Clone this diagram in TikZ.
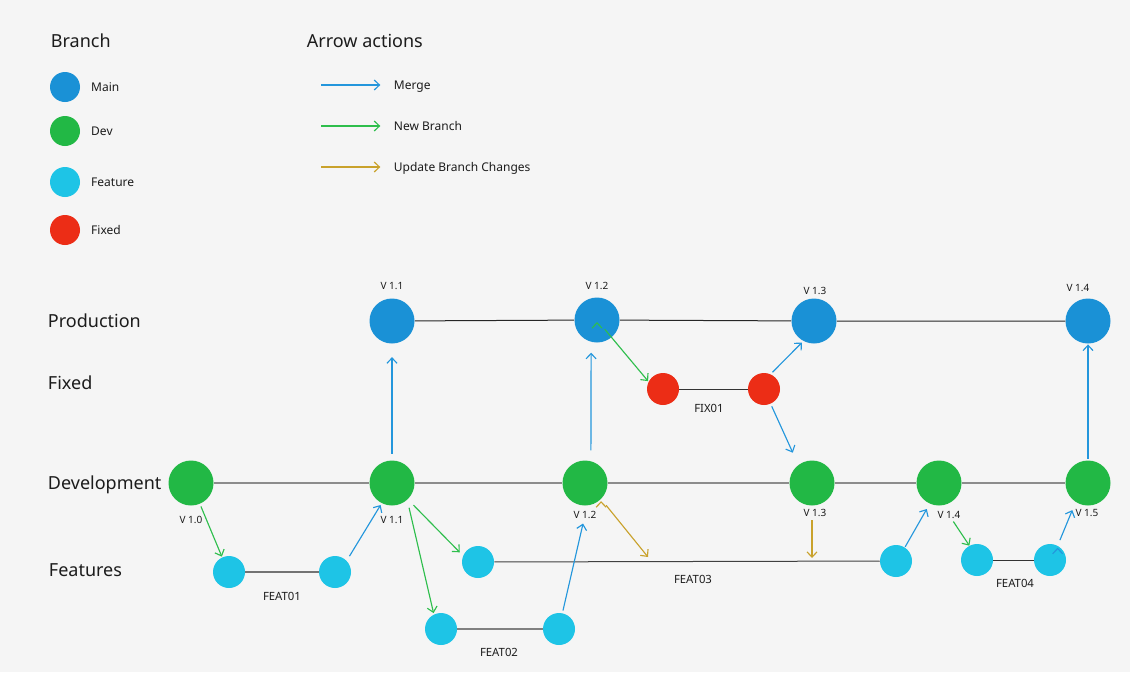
\documentclass[tikz,border=0pt]{standalone}
\usepackage{fontspec}
\setmainfont{Noto Sans}
\usepackage{tikz}
\usetikzlibrary{arrows.meta,positioning}
\definecolor{bg}{HTML}{F5F5F5}
\definecolor{ink}{HTML}{1C1C1C}
\definecolor{mainblue}{HTML}{1A91D6}
\definecolor{devgreen}{HTML}{22B845}
\definecolor{featcyan}{HTML}{1EC4E6}
\definecolor{fixred}{HTML}{EC2D16}
\definecolor{mergeblue}{HTML}{2396DC}
\definecolor{newgreen}{HTML}{2EBE4C}
\definecolor{updgold}{HTML}{C9A22C}
\tikzset{commit/.style={circle, inner sep=0pt, minimum size=24pt}}
\tikzstyle{prodc}=[commit, fill=mainblue, minimum size=33.75pt]
\tikzstyle{devc}=[commit, fill=devgreen, minimum size=33.75pt]
\tikzstyle{featc}=[commit, fill=featcyan]
\tikzstyle{fixc}=[commit, fill=fixred]
\tikzstyle{legc}=[commit, minimum size=22.5pt]
\tikzstyle{txt}=[inner sep=2pt, text depth=0pt, text=ink, font=\fontsize{9}{11}\selectfont]
\tikzstyle{head}=[txt, font=\fontsize{13.5}{16}\selectfont, anchor=west]
\tikzstyle{ver}=[txt, font=\fontsize{7.5}{9}\selectfont]
\tikzstyle{tag}=[txt, font=\fontsize{8.5}{10}\selectfont]
\tikzstyle{act}=[draw, ->, line width=0.85pt, shorten >=1.5pt, shorten <=2pt]
\tikzstyle{merge}=[act, mergeblue]
\tikzstyle{newbr}=[act, newgreen]
\tikzstyle{upd}=[act, updgold]

\begin{document}
\begin{tikzpicture}[>={Straight Barb[length=4pt,width=7.5pt]}, x=0.75pt, y=-0.75pt]
\fill[bg] (0,0) rectangle (1130,672);
\useasboundingbox (0,0) rectangle (1130,672);

\node[head] (hB) at (48,41) {Branch};
\node[head] (hA) at (304,41) {Arrow actions};
\node[legc, fill=mainblue] (L1) at (65,87) {};
\node[legc, fill=devgreen] (L2) at (65,131) {};
\node[legc, fill=featcyan] (L3) at (65,182) {};
\node[legc, fill=fixred] (L4) at (65,230) {};
\node[txt, right=6pt of L1] (tL1) {Main};
\node[txt, right=6pt of L2] (tL2) {Dev};
\node[txt, right=6pt of L3] (tL3) {Feature};
\node[txt, right=6pt of L4] (tL4) {Fixed};
\coordinate (A1) at (321,85);
\coordinate (A2) at (321,126);
\coordinate (A3) at (321,167);
\node[txt, anchor=west] (tA1) at (391,85) {Merge};
\node[txt, anchor=west] (tA2) at (391,126) {New Branch};
\node[txt, anchor=west] (tA3) at (391,167) {Update Branch Changes};

\node[head] (rP) at (45,321) {Production};
\node[head] (rX) at (45,383) {Fixed};
\node[head] (rD) at (45,483) {Development};
\node[head] (rF) at (46,570) {Features};

\node[prodc] (P1) at (392,321) {};
\node[prodc] (P2) at (597,320) {};
\node[prodc] (P3) at (814,321) {};
\node[prodc] (P4) at (1088,321) {};
\node[ver] (vP1) at (392,286) {V 1.1};
\node[ver] (vP2) at (597,286) {V 1.2};
\node[ver] (vP3) at (815,291) {V 1.3};
\node[ver] (vP4) at (1078,288) {V 1.4};

\node[fixc] (X1) at (663,389) {};
\node[fixc] (X2) at (764,389) {};
\node[tag] (tX) at (709,408) {FIX01};

\node[devc] (D0) at (191,483) {};
\node[devc] (D1) at (392,483) {};
\node[devc] (D2) at (585,483) {};
\node[devc] (D3) at (812,483) {};
\node[devc] (D4) at (939,483) {};
\node[devc] (D5) at (1088,483) {};
\node[ver] (vD0) at (191,520) {V 1.0};
\node[ver] (vD1) at (392,520) {V 1.1};
\node[ver] (vD2) at (585,515) {V 1.2};
\node[ver] (vD3) at (815,513) {V 1.3};
\node[ver] (vD4) at (949,515) {V 1.4};
\node[ver] (vD5) at (1087,513) {V 1.5};

\node[featc] (F1) at (229,572) {};
\node[featc] (F2) at (335,572) {};
\node[featc] (F3) at (441,629) {};
\node[featc] (F4) at (559,629) {};
\node[featc] (F5) at (478,562) {};
\node[featc] (F6) at (896,561) {};
\node[featc] (F7) at (977,560) {};
\node[featc] (F8) at (1050,560) {};
\node[tag] (tF1) at (282,596) {FEAT01};
\node[tag] (tF2) at (499,652) {FEAT02};
\node[tag] (tF3) at (693,579) {FEAT03};
\node[tag] (tF4) at (1015,583) {FEAT04};
\coordinate (u1) at (648,557);
\coordinate (u2) at (812,558);

\draw[black!85, line width=0.75pt] (P1) -- (P2) -- (P3) -- (P4);
\draw[black!45, line width=1.1pt] (D0) -- (D1) -- (D2) -- (D3) -- (D4) -- (D5);
\draw[black!80, line width=0.75pt] (X1) -- (X2);
\draw[black!55, line width=0.9pt] (F1) -- (F2);
\draw[black!50, line width=0.9pt] (F3) -- (F4);
\draw[black!75, line width=0.75pt] (F5) -- (F6);
\draw[black!80, line width=0.75pt] (F7) -- (F8);

\path[merge] (A1) edge[shorten <=0pt, shorten >=8pt] (tA1)
	(F2.44) edge[shorten <=4pt] (D1.-117)
	(F4.78) edge (vD2)
	(D1) edge[shorten <=5pt, shorten >=10pt] (P1)
	(D2.75) edge[shorten <=8pt, shorten >=8pt] (P2.-105)
	(X2.66) edge (P3.-118)
	(X2.-66) edge[shorten >=10pt] (D3.127)
	(F6.57) edge[shorten <=0.5pt, shorten >=4.5pt] (D4.-114)
	(F8.62) edge[shorten <=4.5pt, shorten >=6.5pt] (D5.-123)
	(D5) edge[shorten <=1pt, shorten >=0.5pt] (P4)
;
\path[newbr] (A2) edge[shorten <=0pt, shorten >=8pt] (tA2)
	(D0.-67) edge[shorten >=0.5pt] (F1.115)
	(D1.-46) edge[shorten <=6pt, shorten >=3.5pt] (F5.157)
	(D1.-48) edge[shorten <=6pt, shorten >=1pt] (F3.116)
	(P2.center) edge[shorten <=9pt, shorten >=0.5pt] (X1.153)
	(vD4) edge[shorten <=0pt, shorten >=0pt] (F7.118)
;
\path[upd] (A3) edge[shorten <=0pt, shorten >=8pt] (tA3)
	(D2.-45) edge[shorten <=6pt, shorten >=0pt] (u1)
	(D3) edge[shorten <=11pt, shorten >=0pt] (u2)
;
\end{tikzpicture}
\end{document}
